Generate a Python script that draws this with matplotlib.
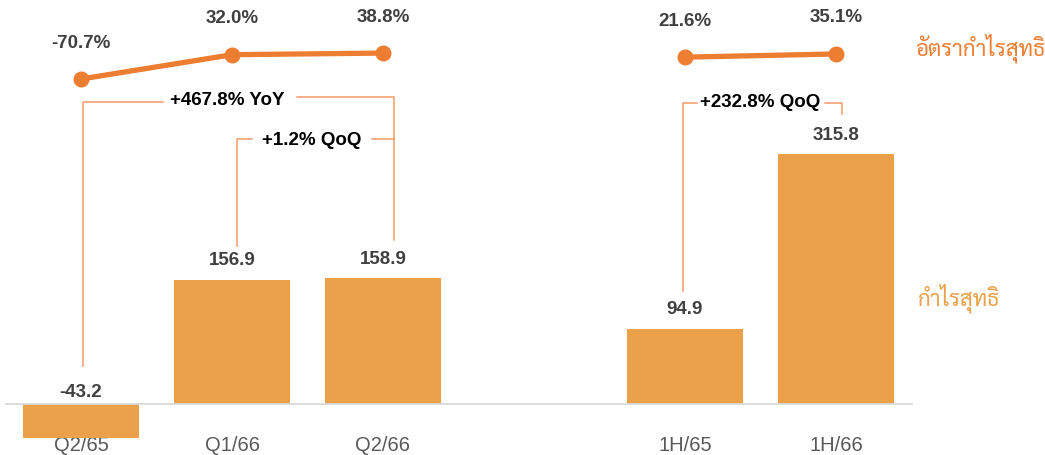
import matplotlib
matplotlib.use("Agg")
import matplotlib.pyplot as plt
from matplotlib import font_manager
from matplotlib.ft2font import FT2Font

# ---- data -------------------------------------------------------------
categories = ["Q2/65", "Q1/66", "Q2/66", "1H/65", "1H/66"]
positions = [0, 1, 2, 4, 5]
net_profit = [-43.2, 156.9, 158.9, 94.9, 315.8]
margin_quarter = [-70.7, 32.0, 38.8]
margin_half = [21.6, 35.1]
growth_labels = ["+467.8% YoY", "+1.2% QoQ", "+232.8% QoQ"]

# ---- colours ----------------------------------------------------------
BAR = "#EBA04A"
LINE = "#ED7D31"
BRACKET = "#F2996A"
VALUE_TXT = "#404040"
TICK_TXT = "#595959"


def find_thai_font():
    preferred = ["Tahoma", "Leelawadee UI", "Leelawadee", "Sarabun", "TH Sarabun New",
                 "Noto Serif Thai", "Noto Sans Thai", "Noto Sans Thai Looped",
                 "Loma", "Garuda", "Norasi", "Kinnari", "Waree", "Umpush", "Sawasdee"]
    found = {}
    for f in font_manager.fontManager.ttflist:
        try:
            if ord("ก") in FT2Font(f.fname).get_charmap():
                found.setdefault(f.name, f.fname)
        except Exception:
            pass
    for name in preferred:
        if name in found:
            return name
    return next(iter(found), None)


thai_font = find_thai_font()
plt.rcParams["font.family"] = ["Liberation Sans", "DejaVu Sans"]

W, H, DPI = 1045, 456, 100
fig = plt.figure(figsize=(W / DPI, H / DPI), dpi=DPI)
ax = fig.add_axes([5.5 / W, 0, 906 / W, 1])
ax.set_xlim(-0.5, 5.5)
ax.set_ylim(-64.5, 512.0)

# bars
ax.bar(positions, net_profit, width=0.77, color=BAR, zorder=2)
for x, v in zip(positions, net_profit):
    base = max(v, 0)
    off = 12 if v < 0 else 20
    ax.annotate(f"{v:.1f}", (x, base), xytext=(0, off * 0.72), textcoords="offset points",
                ha="center", va="center", fontsize=13.5, fontweight="bold", color=VALUE_TXT)

# axis styling
for s in ["top", "right", "left"]:
    ax.spines[s].set_visible(False)
ax.spines["bottom"].set_position(("data", 0))
ax.spines["bottom"].set_color("#D9D9D9")
ax.spines["bottom"].set_linewidth(1.3)
ax.set_yticks([])
ax.set_xticks(positions)
ax.set_xticklabels(categories, fontsize=14.5, color=TICK_TXT)
ax.tick_params(axis="x", length=0, pad=22)

# net margin line on a secondary scale
ax2 = ax.twinx()
ax2.set_ylim(-1657, 267)
ax2.axis("off")
for xs, ms in [(positions[:3], margin_quarter), (positions[3:], margin_half)]:
    ax2.plot(xs, ms, color=LINE, lw=3.8, marker="o", ms=10.5, zorder=3, solid_capstyle="round")
    for x, m in zip(xs, ms):
        ax2.annotate(f"{m:.1f}%", (x, m), xytext=(0, 37 * 0.72), textcoords="offset points",
                     ha="center", va="center", fontsize=13.5, fontweight="bold", color=VALUE_TXT)

# growth brackets
bk = dict(color=BRACKET, lw=1.1, zorder=1)
# YoY: Q2/65 -> Q2/66
ax.plot([0.013, 0.013, 0.54], [48, 382, 382], **bk)
ax.plot([1.43, 2.07, 2.07], [388, 388, 207], **bk)
ax.text(0.97, 385, growth_labels[0], ha="center", va="center", fontsize=13.5,
        fontweight="bold", color="black")
# QoQ: Q1/66 -> Q2/66
ax.plot([1.03, 1.03, 1.13], [200, 335, 335], **bk)
ax.plot([1.93, 2.07], [335, 335], **bk)
ax.text(1.53, 335, growth_labels[1], ha="center", va="center", fontsize=13.5,
        fontweight="bold", color="black")
# QoQ: 1H/65 -> 1H/66
ax.plot([3.99, 3.99, 4.08], [143, 381, 381], **bk)
ax.plot([4.93, 5.04, 5.04], [381, 381, 367], **bk)
ax.text(4.5, 382, growth_labels[2], ha="center", va="center", fontsize=13.5,
        fontweight="bold", color="black")

# series labels on the right
thai_fam = [thai_font, "DejaVu Sans"] if thai_font else ["DejaVu Sans"]
fig.text(915 / W, 1 - 48 / H, "อัตรากำไรสุทธิ", ha="left", va="center", fontsize=16,
         color=LINE, family=thai_fam)
fig.text(917 / W, 1 - 298 / H, "กำไรสุทธิ", ha="left", va="center", fontsize=16,
         color=BAR, family=thai_fam)

fig.savefig("out.png", dpi=DPI)
